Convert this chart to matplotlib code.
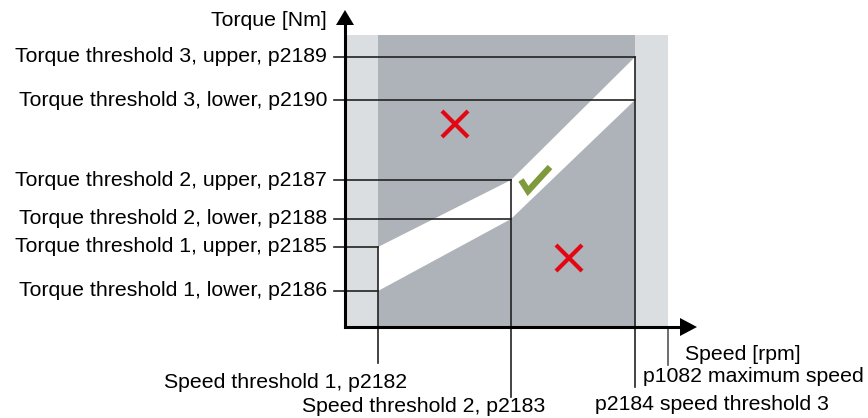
import matplotlib
matplotlib.use("Agg")
import matplotlib.pyplot as plt

plt.rcParams["font.family"] = ["Liberation Sans", "DejaVu Sans"]

# Speed thresholds (arbitrary units along the speed axis)
speed_thresholds = [33, 166, 290]
speed_max = 323
speed_labels = ["Speed threshold 1, p2182", "Speed threshold 2, p2183", "p2184 speed threshold 3"]
speed_max_label = "p1082 maximum speed"

# Torque thresholds (arbitrary units along the torque axis)
torque_lower = [36, 108, 227]
torque_upper = [80, 147, 270]
torque_lower_labels = ["Torque threshold 1, lower, p2186",
                       "Torque threshold 2, lower, p2188",
                       "Torque threshold 3, lower, p2190"]
torque_upper_labels = ["Torque threshold 1, upper, p2185",
                       "Torque threshold 2, upper, p2187",
                       "Torque threshold 3, upper, p2189"]
torque_top = 292

LIGHT = "#dadee1"
DARK = "#adb3b8"
LINE = "#222222"
RED = "#e30613"
GREEN = "#7f9a3d"
FS = 15.3

fig = plt.figure(figsize=(8.68, 4.18), dpi=100)
ax = fig.add_axes([0, 0, 1, 1])
ax.set_xlim(-345, 523)
ax.set_ylim(-91, 327)
ax.axis("off")

n1, n2, n3 = speed_thresholds

# Background regions
ax.fill_between([0, speed_max], 0, torque_top, color=LIGHT, lw=0)
ax.fill_between([n1, n3], 0, torque_top, color=DARK, lw=0)

# Permitted band between lower and upper torque thresholds
band_x = speed_thresholds + speed_thresholds[::-1]
band_y = torque_lower + torque_upper[::-1]
ax.fill(band_x, band_y, color="white", lw=0)

# Horizontal threshold lines
for n, lo, hi in zip(speed_thresholds, torque_lower, torque_upper):
    ax.plot([-11, n], [lo, lo], color=LINE, lw=1.2)
    ax.plot([-11, n], [hi, hi], color=LINE, lw=1.2)

# Vertical speed lines down to their labels
v_bottoms = [-36, -70, -60]
for n, hi, b in zip(speed_thresholds, torque_upper, v_bottoms):
    ax.plot([n, n], [hi, b], color=LINE, lw=1.2)
ax.plot([speed_max, speed_max], [0, -38], color="#555555", lw=1.2)

# Axes with arrow heads
ax.plot([0, 340], [0, 0], color="black", lw=2.2)
ax.plot([0, 0], [0, 304], color="black", lw=2.2)
ax.fill([335, 352, 335], [-9, 0, 9], color="black", lw=0)
ax.fill([-9, 0, 9], [302, 317, 302], color="black", lw=0)

# Axis titles
ax.text(-18, 307, "Torque [Nm]", ha="right", va="center", fontsize=FS)
ax.text(340, -27, "Speed [rpm]", ha="left", va="center", fontsize=FS)

# Torque labels
for lo, hi, llo, lhi in zip(torque_lower, torque_upper, torque_lower_labels, torque_upper_labels):
    ax.text(-18, lo, llo, ha="right", va="center", fontsize=FS)
    ax.text(-18, hi, lhi, ha="right", va="center", fontsize=FS)

# Speed labels
ax.text(62, -55, speed_labels[0], ha="right", va="center", fontsize=FS)
ax.text(200, -80, speed_labels[1], ha="right", va="center", fontsize=FS)
ax.text(250, -78, speed_labels[2], ha="left", va="center", fontsize=FS)
ax.text(298, -50, speed_max_label, ha="left", va="center", fontsize=FS)

# Forbidden-region crosses
for cx, cy in [(110, 203), (224, 69)]:
    d = 13
    ax.plot([cx - d, cx + d], [cy + d, cy - d], color=RED, lw=3, solid_capstyle="butt")
    ax.plot([cx - d, cx + d], [cy - d, cy + d], color=RED, lw=3, solid_capstyle="butt")

# Check mark in the permitted band
ax.plot([176, 183, 205], [147, 136, 160], color=GREEN, lw=4.5,
        solid_joinstyle="miter", solid_capstyle="butt")

fig.savefig("out.png", dpi=100)
